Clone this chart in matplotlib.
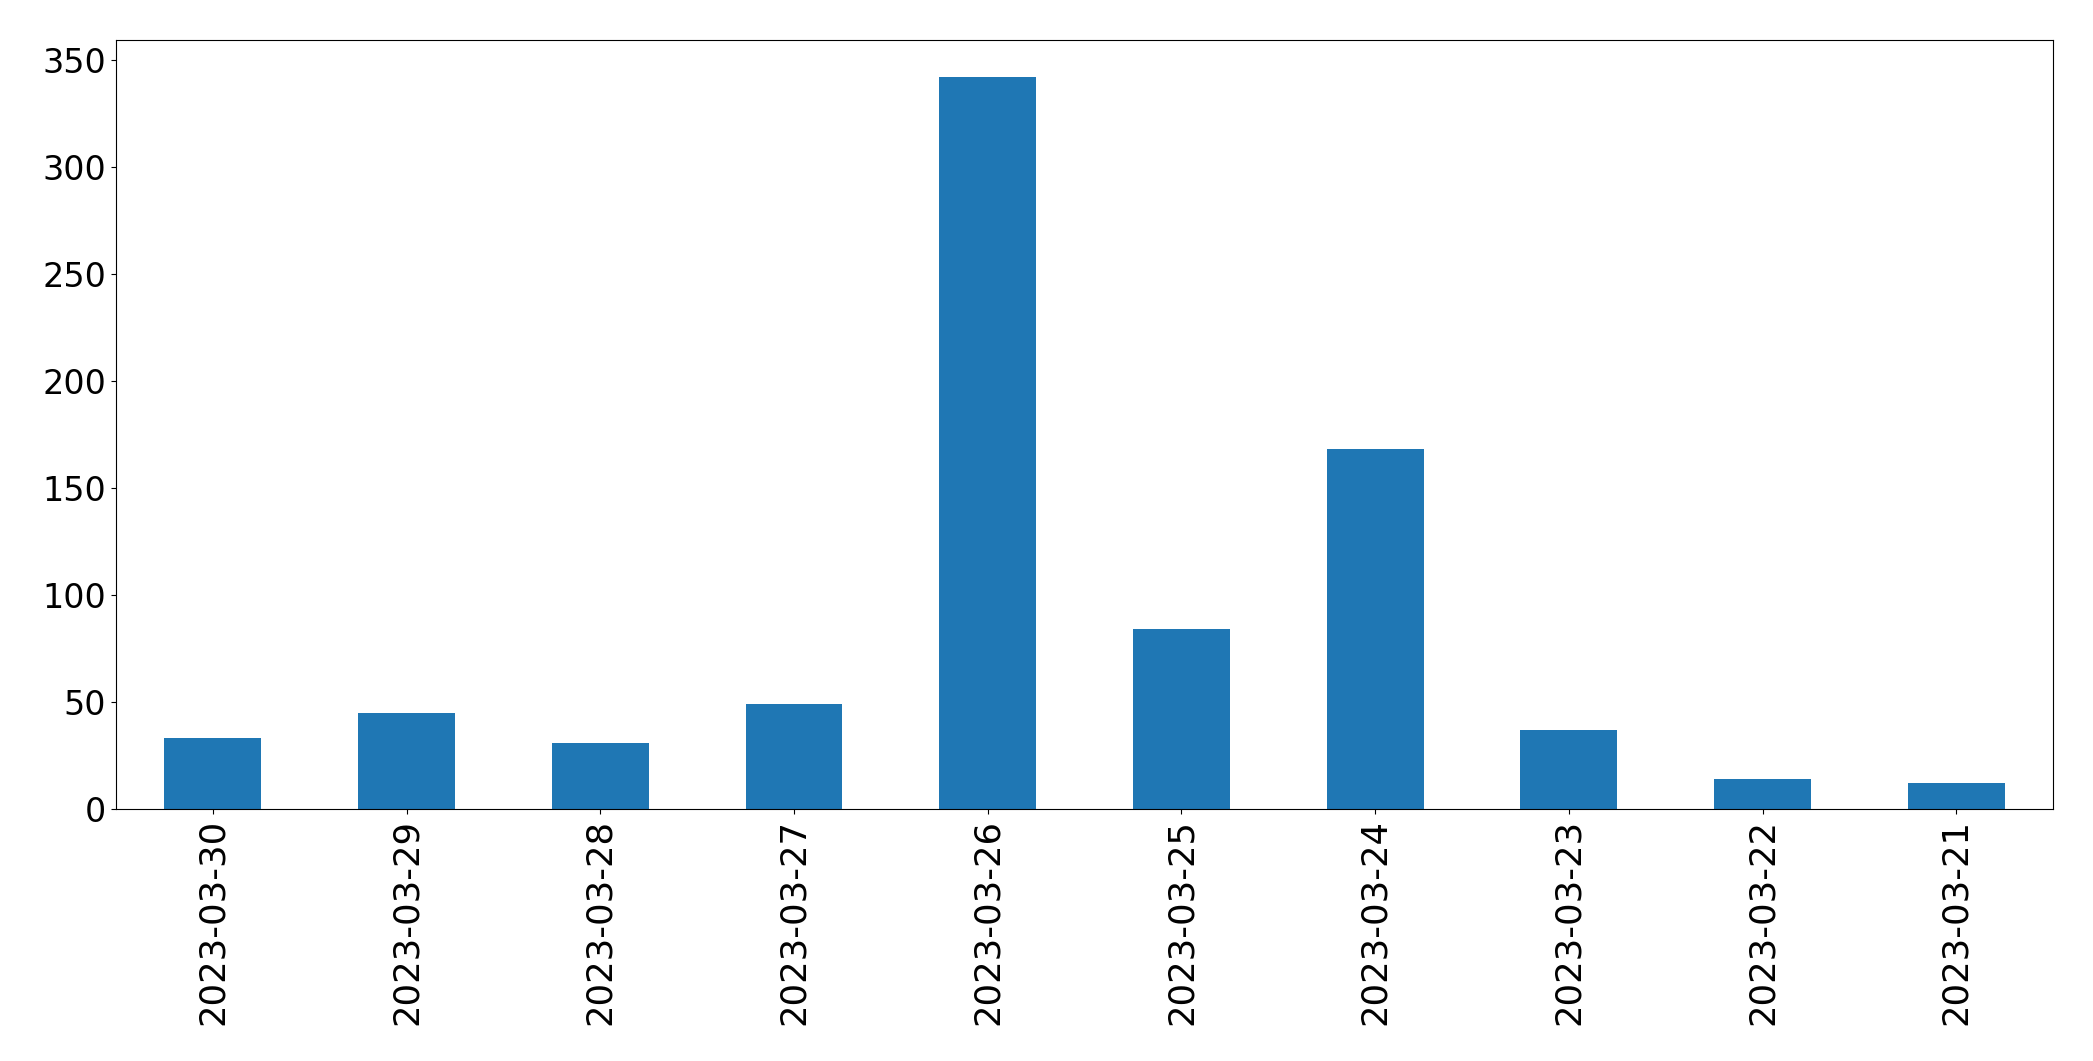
import matplotlib
matplotlib.use("Agg")
import matplotlib.pyplot as plt

dates = ["2023-03-30", "2023-03-29", "2023-03-28", "2023-03-27", "2023-03-26",
         "2023-03-25", "2023-03-24", "2023-03-23", "2023-03-22", "2023-03-21"]
counts = [33, 45, 31, 49, 342, 84, 168, 37, 14, 12]

fig, ax = plt.subplots(figsize=(20.93, 10.61), dpi=100)
fig.subplots_adjust(left=0.0554, right=0.981, top=0.962, bottom=0.2375)

x = list(range(len(dates)))
ax.bar(x, counts, width=0.5, color="#1f77b4")
ax.set_xlim(-0.5, len(dates) - 0.5)
ax.set_xticks(x)
ax.set_xticklabels(dates, rotation=90)
# rotated date labels look a bit longer than the y ticks in the original
ax.tick_params(axis="x", labelsize=25.5)
ax.tick_params(axis="y", labelsize=24)

fig.savefig("out.png")
